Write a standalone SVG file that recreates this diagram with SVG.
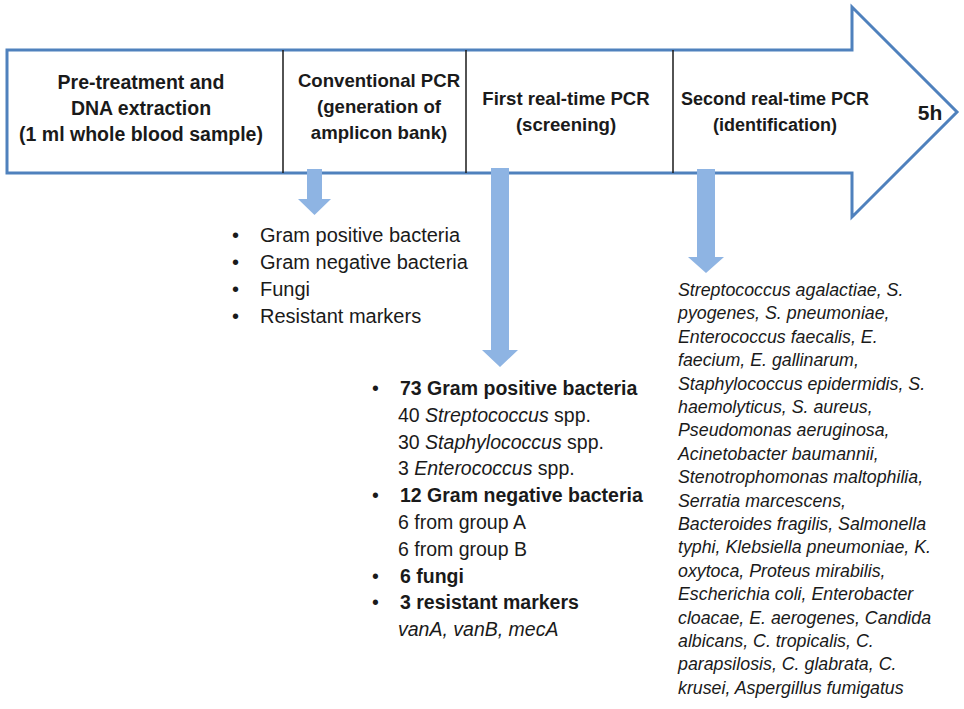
<svg xmlns="http://www.w3.org/2000/svg" width="964" height="709" viewBox="0 0 964 709">
<style>
  .hdr { font-family: "Liberation Sans", Arial, sans-serif; font-weight: bold; font-size: 18.6px; fill: #1a1a1a; text-anchor: middle; }
  .lst { font-family: "Liberation Sans", Arial, sans-serif; font-size: 19.5px; fill: #1a1a1a; }
  .l1 { font-size: 20px; }
  .b { font-weight: bold; }
  .it { font-style: italic; }
  .sp { font-family: "Liberation Sans", Arial, sans-serif; font-size: 17.8px; font-style: italic; fill: #1a1a1a; }
  .blk { fill: #8eb4e3; stroke: none; }
  .div { stroke: #1a1a1a; stroke-width: 1.5; }
</style>
<rect width="964" height="709" fill="#ffffff"/>
<g id="timeline">
  <path d="M7,50 H852 V7 L957,112 L852,217 V173 H7 Z" fill="#ffffff" stroke="#4f81bd" stroke-width="3" stroke-linejoin="miter"/>
  <line class="div" x1="283" y1="50" x2="283" y2="173"/>
  <line class="div" x1="466" y1="50" x2="466" y2="173"/>
  <line class="div" x1="673" y1="50" x2="673" y2="173"/>
</g>
<g id="step1">
  <text class="hdr" x="141" y="89" style="font-size:19.5px">Pre-treatment and</text>
  <text class="hdr" x="141" y="115" style="font-size:19.5px">DNA extraction</text>
  <text class="hdr" x="141" y="141" style="font-size:19.5px">(1 ml whole blood sample)</text>
</g>
<g id="step2">
  <text class="hdr" x="379" y="87">Conventional PCR</text>
  <text class="hdr" x="379" y="113">(generation of</text>
  <text class="hdr" x="379" y="139">amplicon bank)</text>
</g>
<g id="step3">
  <text class="hdr" x="566" y="105">First real-time PCR</text>
  <text class="hdr" x="566" y="131">(screening)</text>
</g>
<g id="step4">
  <text class="hdr" x="775" y="105" style="font-size:18px">Second real-time PCR</text>
  <text class="hdr" x="775" y="131" style="font-size:18px">(identification)</text>
  <text class="hdr" x="930" y="120" style="font-size:21px">5h</text>
</g>
<g id="connectors">
  <path class="blk" d="M307,169 H322 V199 H331 L314.5,215 L298,199 H307 Z"/>
  <path class="blk" d="M491,168 H509 V350 H518 L500,367 L482,350 H491 Z"/>
  <path class="blk" d="M697,169 H715 V257 H724 L706,273 L688,257 H697 Z"/>
</g>
<g id="amplicon-list" class="lst l1">
  <text x="232" y="242">•</text><text x="260" y="242">Gram positive bacteria</text>
  <text x="232" y="269">•</text><text x="260" y="269">Gram negative bacteria</text>
  <text x="232" y="296">•</text><text x="260" y="296">Fungi</text>
  <text x="232" y="323">•</text><text x="260" y="323">Resistant markers</text>
</g>
<g id="screening-list" class="lst">
  <text x="372" y="395">•</text><text x="400" y="395" class="b">73 Gram positive bacteria</text>
  <text x="398" y="421.8">40 <tspan class="it">Streptococcus</tspan> spp.</text>
  <text x="398" y="448.6">30 <tspan class="it">Staphylococcus</tspan> spp.</text>
  <text x="398" y="475.4">3 <tspan class="it">Enterococcus</tspan> spp.</text>
  <text x="372" y="502.2">•</text><text x="400" y="502.2" class="b">12 Gram negative bacteria</text>
  <text x="398" y="529">6 from group A</text>
  <text x="398" y="555.8">6 from group B</text>
  <text x="372" y="582.6">•</text><text x="400" y="582.6" class="b">6 fungi</text>
  <text x="372" y="609.4">•</text><text x="400" y="609.4" class="b">3 resistant markers</text>
  <text x="398" y="636.2" class="it">vanA, vanB, mecA</text>
</g>
<g id="identification-list" class="sp">
  <text x="678" y="296">Streptococcus agalactiae, S.</text>
  <text x="678" y="319.4">pyogenes, S. pneumoniae,</text>
  <text x="678" y="342.8">Enterococcus faecalis, E.</text>
  <text x="678" y="366.2">faecium, E. gallinarum,</text>
  <text x="678" y="389.6">Staphylococcus epidermidis, S.</text>
  <text x="678" y="413">haemolyticus, S. aureus,</text>
  <text x="678" y="436.4">Pseudomonas aeruginosa,</text>
  <text x="678" y="459.8">Acinetobacter baumannii,</text>
  <text x="678" y="483.2">Stenotrophomonas maltophilia,</text>
  <text x="678" y="506.6">Serratia marcescens,</text>
  <text x="678" y="530">Bacteroides fragilis, Salmonella</text>
  <text x="678" y="553.4">typhi, Klebsiella pneumoniae, K.</text>
  <text x="678" y="576.8">oxytoca, Proteus mirabilis,</text>
  <text x="678" y="600.2">Escherichia coli, Enterobacter</text>
  <text x="678" y="623.6">cloacae, E. aerogenes, Candida</text>
  <text x="678" y="647">albicans, C. tropicalis, C.</text>
  <text x="678" y="670.4">parapsilosis, C. glabrata, C.</text>
  <text x="678" y="693.8">krusei, Aspergillus fumigatus</text>
</g>
</svg>
